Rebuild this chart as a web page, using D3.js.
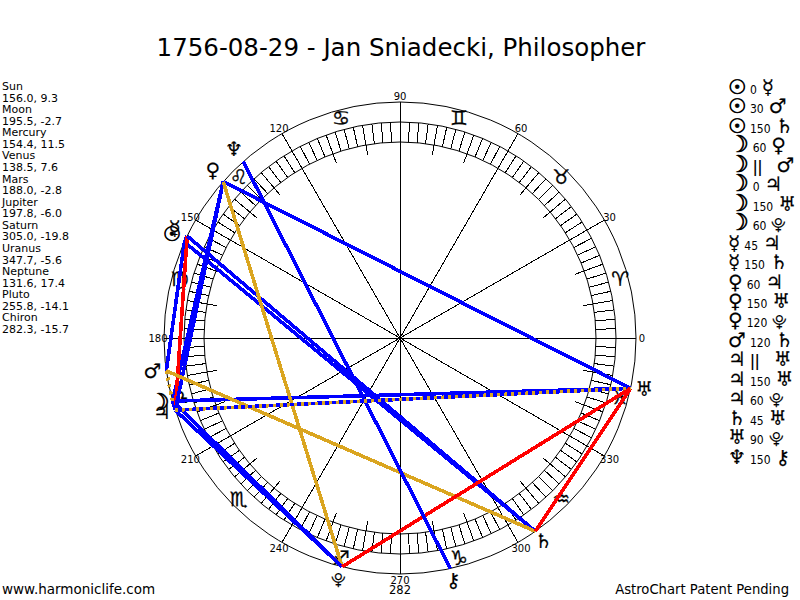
<!DOCTYPE html>
<html>
<head>
<meta charset="utf-8">
<script src="https://cdn.jsdelivr.net/npm/d3@7"></script>
<style>
  body { margin: 0; background: #fff; }
  text { font-family: "DejaVu Sans", Verdana, sans-serif; fill: #000; }
  .num { font-family: "DejaVu Sans Condensed", "DejaVu Sans", sans-serif; }
</style>
</head>
<body>
<div id="chart"></div>
<script>
// Birth chart wheel: planets on the ecliptic, aspects as chords

var planetNames = ["Sun", "Moon", "Mercury", "Venus", "Mars", "Jupiter", "Saturn", "Uranus", "Neptune", "Pluto", "Chiron"];
var planetLon = [156.0, 195.5, 154.4, 138.5, 188.0, 197.8, 305.0, 347.7, 131.6, 255.8, 282.3];
var planetLat = ["9.3", "-2.7", "11.5", "7.6", "-2.8", "-6.0", "-19.8", "-5.6", "17.4", "-14.1", "-15.7"];
var planetGlyphs = ["\u2609", "\u263D", "\u263F", "\u2640", "\u2642", "\u2643", "\u2644", "\u2645", "\u2646", "\u2BD3", "\u26B7"];
var signGlyphs = ["\u2648", "\u2649", "\u264A", "\u264B", "\u264C", "\u264D", "\u264E", "\u264F", "\u2650", "\u2651", "\u2652", "\u2653"];

// aspects, in legend order: planet a, angle, planet b
var aspectFrom = ["Sun", "Sun", "Sun", "Moon", "Moon", "Moon", "Moon", "Moon", "Mercury", "Mercury", "Venus", "Venus", "Venus", "Mars", "Jupiter", "Jupiter", "Jupiter", "Saturn", "Uranus", "Neptune"];
var aspectKind = ["0", "30", "150", "60", "||", "0", "150", "60", "45", "150", "60", "150", "120", "120", "||", "150", "60", "45", "90", "150"];
var aspectTo = ["Mercury", "Mars", "Saturn", "Venus", "Mars", "Jupiter", "Uranus", "Pluto", "Jupiter", "Saturn", "Jupiter", "Uranus", "Pluto", "Saturn", "Uranus", "Uranus", "Pluto", "Uranus", "Pluto", "Chiron"];

var degreeLabels = [0, 30, 60, 90, 120, 150, 180, 210, 240, 270, 300, 330];

var width = 800, height = 600;
var cx = 400, cy = 338;
var rOuter = 236, rBandOut = 216, rBandIn = 196, rTick = 186;

// linear scale for the ecliptic, counter clockwise from the right
var angle = d3.scaleLinear().domain([0, 360]).range([0, -2 * Math.PI]);
var hatch = d3.range(0, 360, 2.5);
var decades = d3.range(0, 360, 10);

function px(lon, r) { return cx + r * Math.cos(angle(lon)); }
function py(lon, r) { return cy + r * Math.sin(angle(lon)); }
function lonOf(name) { return planetLon[planetNames.indexOf(name)]; }
function glyphOf(name) { return planetGlyphs[planetNames.indexOf(name)] + "\uFE0E"; }

function aspectColor(kind) {
  if (kind === "120" || kind === "||") return "#daa520";
  if (kind === "45" || kind === "90") return "#ff0000";
  return "#0000ff";
}

// Sun and Moon are heavier in the source font, the Pluto glyph comes out big here
function glyphSize(name) {
  if (name === "Moon") return 23;
  if (name === "Pluto") return 15;
  return 20;
}
function glyphStroke(name) { return (name === "Sun" || name === "Moon") ? 0.7 : 0.15; }

var svg = d3.select("#chart").append("svg")
    .attr("width", width)
    .attr("height", height)
    .style("display", "block");

svg.append("text")
    .attr("x", 401)
    .attr("y", 56)
    .attr("text-anchor", "middle")
    .attr("font-size", 24.5)
    .text("1756-08-29 - Jan Sniadecki, Philosopher");

// Left column
var leftRows = [];
planetNames.forEach(function (d, i) {
  leftRows.push(d);
  leftRows.push(planetLon[i].toFixed(1) + ", " + planetLat[i]);
});
svg.append("g").selectAll("text")
    .data(leftRows)
    .enter().append("text")
    .attr("x", 2)
    .attr("y", function (d, i) { return 90 + i * 11.57; })
    .attr("font-size", 11)
    .text(function (d) { return d; });

// Rings
var wheel = svg.append("g").attr("fill", "none").attr("stroke", "#000");
[rOuter, rBandOut, rBandIn].forEach(function (r) {
  wheel.append("circle").attr("cx", cx).attr("cy", cy).attr("r", r);
});

wheel.selectAll("line.hatch")
    .data(hatch)
    .enter().append("line")
    .attr("class", "hatch")
    .attr("shape-rendering", "crispEdges")
    .attr("x1", function (d) { return px(d, rBandIn); })
    .attr("y1", function (d) { return py(d, rBandIn); })
    .attr("x2", function (d) { return px(d, rBandOut); })
    .attr("y2", function (d) { return py(d, rBandOut); });

wheel.selectAll("line.decade")
    .data(decades)
    .enter().append("line")
    .attr("class", "decade")
    .attr("shape-rendering", "crispEdges")
    .attr("x1", function (d) { return px(d, rTick); })
    .attr("y1", function (d) { return py(d, rTick); })
    .attr("x2", function (d) { return px(d, rBandIn); })
    .attr("y2", function (d) { return py(d, rBandIn); });

wheel.selectAll("line.spoke")
    .data(degreeLabels)
    .enter().append("line")
    .attr("class", "spoke")
    .attr("shape-rendering", "crispEdges")
    .attr("x1", cx)
    .attr("y1", cy)
    .attr("x2", function (d) { return px(d, rOuter); })
    .attr("y2", function (d) { return py(d, rOuter); });

// Degree labels
svg.append("g").selectAll("text")
    .data(degreeLabels)
    .enter().append("text")
    .attr("x", function (d) { return px(d, 242); })
    .attr("y", function (d) { return py(d, 242) + 4; })
    .attr("text-anchor", "middle")
    .attr("font-size", 10)
    .text(function (d) { return d; });

svg.append("text")
    .attr("x", 400).attr("y", 594)
    .attr("text-anchor", "middle")
    .attr("font-size", 11.5)
    .text("282");

// Sign glyphs
svg.append("g").selectAll("text")
    .data(signGlyphs)
    .enter().append("text")
    .attr("x", function (d, i) { return px(15 + i * 30, 228); })
    .attr("y", function (d, i) { return py(15 + i * 30, 228) + 7; })
    .attr("text-anchor", "middle")
    .attr("font-size", 20)
    .style("stroke", "#000")
    .style("stroke-width", 0.3)
    .text(function (d) { return d + "\uFE0E"; });

// Aspect chords, parallels on top
var aspectIdx = d3.range(aspectKind.length);
var chordOrder = aspectIdx.slice().sort(function (a, b) {
  return (aspectKind[a] === "||") - (aspectKind[b] === "||");
});
svg.append("g").selectAll("line")
    .data(chordOrder)
    .enter().append("line")
    .attr("shape-rendering", "crispEdges")
    .attr("x1", function (i) { return px(lonOf(aspectFrom[i]), rOuter); })
    .attr("y1", function (i) { return py(lonOf(aspectFrom[i]), rOuter); })
    .attr("x2", function (i) { return px(lonOf(aspectTo[i]), rOuter); })
    .attr("y2", function (i) { return py(lonOf(aspectTo[i]), rOuter); })
    .attr("stroke", function (i) { return aspectColor(aspectKind[i]); })
    .attr("stroke-width", 3.6)
    .attr("stroke-dasharray", function (i) { return aspectKind[i] === "||" ? "3 4" : null; });

// Planet glyphs round the wheel
svg.append("g").selectAll("text")
    .data(planetNames)
    .enter().append("text")
    .attr("x", function (d, i) { return px(planetLon[i], 250); })
    .attr("y", function (d, i) { return py(planetLon[i], 250) + 5; })
    .attr("text-anchor", "middle")
    .attr("font-size", glyphSize)
    .style("stroke", "#000")
    .style("stroke-width", glyphStroke)
    .text(glyphOf);

// Legend on the right, each row flows like a line of text
var legend = svg.append("g").selectAll("text")
    .data(aspectIdx)
    .enter().append("text")
    .attr("x", 728)
    .attr("y", function (i) { return 94 + i * 19.45; });

legend.append("tspan")
    .attr("font-size", function (i) { return glyphSize(aspectFrom[i]); })
    .style("stroke", "#000")
    .style("stroke-width", function (i) { return glyphStroke(aspectFrom[i]); })
    .text(function (i) { return glyphOf(aspectFrom[i]); });
legend.append("tspan")
    .attr("class", "num")
    .attr("dx", 4)
    .attr("font-size", function (i) { return aspectKind[i] === "||" ? 15 : 12; })
    .attr("font-weight", function (i) { return aspectKind[i] === "||" ? "bold" : null; })
    .text(function (i) { return aspectKind[i]; });
legend.append("tspan")
    .attr("dx", function (i) { return aspectKind[i] === "||" ? 14 : 5; })
    .attr("font-size", function (i) { return glyphSize(aspectTo[i]); })
    .style("stroke", "#000")
    .style("stroke-width", function (i) { return glyphStroke(aspectTo[i]); })
    .text(function (i) { return glyphOf(aspectTo[i]); });

// Footer
svg.append("text").attr("x", 2).attr("y", 594).attr("font-size", 13.5).text("www.harmoniclife.com");
svg.append("text").attr("x", 789).attr("y", 594).attr("text-anchor", "end").attr("font-size", 13.2).text("AstroChart Patent Pending");
</script>
</body>
</html>
